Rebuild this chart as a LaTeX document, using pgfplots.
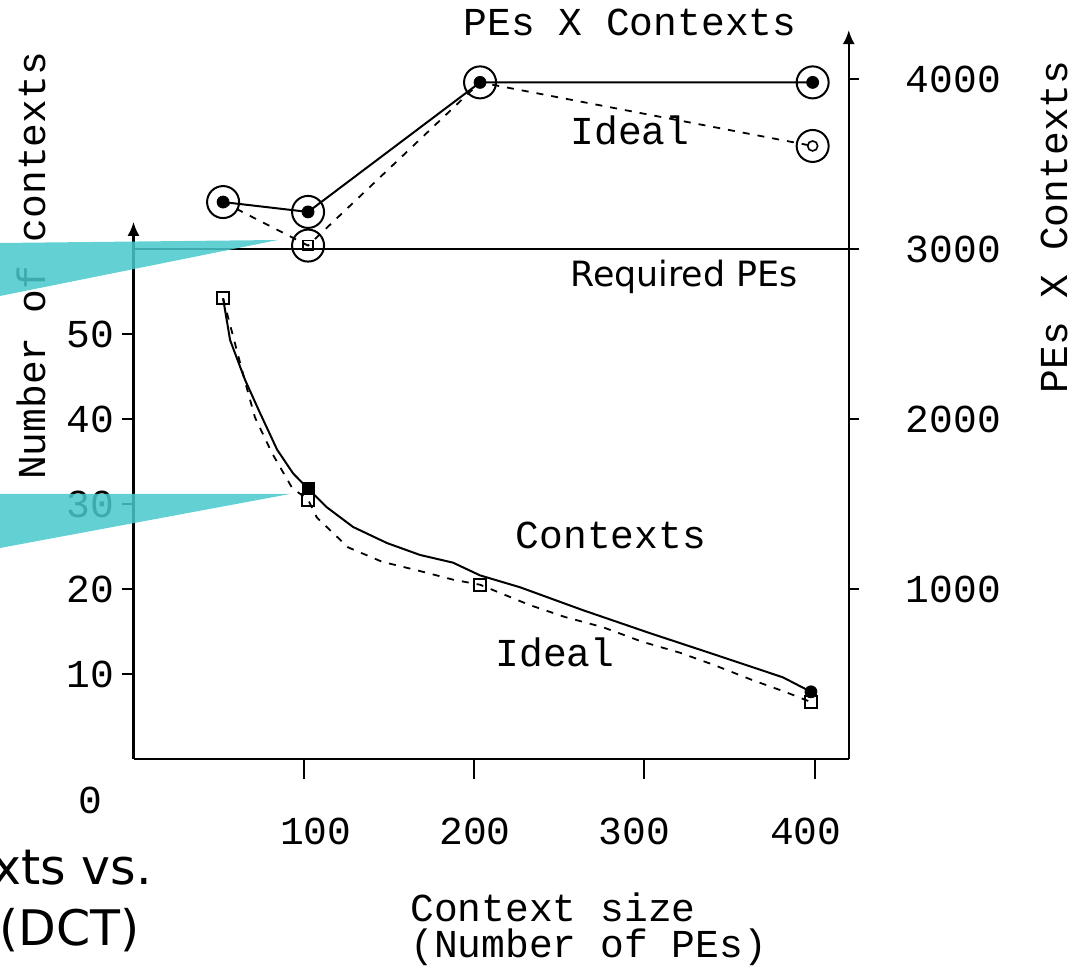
\documentclass[border=0pt]{standalone}
\usepackage{pgfplots}
\pgfplotsset{compat=1.18}
\usetikzlibrary{arrows.meta}
\usepackage{fontspec}
\setmainfont{Liberation Mono}
\newfontfamily\slidefont{DejaVu Sans}
\definecolor{callout}{RGB}{72,200,205}
\newcommand\chartfont{\fontsize{19.8}{22}\selectfont}

\pgfplotstableread{
x y
52.6 54.2
56.7 49.3
65.5 44.6
74.3 40.7
84.3 36.4
93.7 33.6
102.5 31.8
113.6 29.6
128.9 27.3
148.9 25.4
168.3 24.0
187.6 23.1
203.5 21.6
227.0 20.2
264.0 17.5
303.3 14.8
342.6 12.2
381.4 9.6
397.8 7.9
}\contexts

\pgfplotstableread{
x y
52.6 54.2
65.5 44.4
71.3 40.2
81.3 36.0
93.1 31.9
102.5 30.5
107.7 28.4
126.0 24.9
146.0 23.2
166.5 22.2
187.6 21.1
203.5 20.5
232.8 18.1
253.4 16.7
275.7 15.5
298.6 13.8
320.9 12.5
340.3 11.1
363.2 9.3
382.6 7.9
397.8 6.7
}\idealcontexts

\pgfplotstableread{
x y
52.6 3276
102.5 3218
203.5 3980
398.8 3980
}\pes

\pgfplotstableread{
x y
52.6 3276
102.5 3020
203.5 3980
398.8 3606
}\idealpes

\begin{document}
\begin{tikzpicture}
\useasboundingbox (0,0) rectangle (541.5pt,484pt);
\clip (0,0) rectangle (541.5pt,484pt);
\pgfplotsset{base/.style={at={(66.75pt,104.5pt)}, anchor=south west,
  scale only axis, x=0.8515pt, xmin=0, xmax=420, clip=false,
  font=\chartfont, /pgf/number format/assume math mode=true,
  tick align=outside, axis line style={line width=1.2pt},
  tick style={line width=1pt, black}, every tick label/.append style={font=\chartfont}}}

% x axis
\begin{axis}[base, y=4.25pt, ymin=0, ymax=63.2,
  axis x line*=bottom, axis y line=none, ytick=\empty,
  xtick={100,200,300,400}, major tick length=10pt,
  xticklabel style={yshift=-16pt},
  xticklabels={\hspace*{12pt}100,\hspace*{1pt}200,300\hspace*{10pt},400\hspace*{9pt}}]
\end{axis}

% left axis: number of contexts
\begin{axis}[base, y=4.25pt, ymin=0, ymax=63.2,
  axis x line=none, axis y line*=left, xtick=\empty,
  y axis line style={-{Latex[length=7pt,width=6pt]}},
  ytick={10,20,30,40,50}, major tick length=6pt]
\addplot[black, line width=1pt] table {\contexts};
\addplot[black, line width=0.9pt, dash pattern=on 3.5pt off 4pt] table {\idealcontexts};
\addplot[only marks, mark=square, mark size=3pt, mark options={line width=0.9pt, fill=white}] coordinates {(52.6,54.2) (102.5,30.5) (203.5,20.5) (397.8,6.7)};
\addplot[only marks, mark=square*, mark size=3pt] coordinates {(102.5,31.8)};
\addplot[only marks, mark=*, mark size=3pt] coordinates {(397.8,7.9)};
\end{axis}

% right axis: PEs X Contexts
\begin{axis}[base, y=0.085pt, ymin=0, ymax=4288,
  axis x line=none, axis y line*=right, xtick=\empty,
  y axis line style={-{Latex[length=7pt,width=6pt]}},
  ytick={1000,2000,3000,4000}, major tick length=5pt,
  yticklabel style={xshift=20pt},
  /pgf/number format/1000 sep={}, scaled y ticks=false]
\addplot[black, line width=1.2pt] coordinates {(0,3000) (425.4,3000)};
\addplot[black, line width=1pt] table {\pes};
\addplot[black, line width=0.9pt, dash pattern=on 3.5pt off 4pt] table {\idealpes};
\addplot[only marks, mark=o, mark size=8pt, mark options={line width=1pt}] coordinates {(52.6,3276) (102.5,3218) (203.5,3980) (398.8,3980) (102.5,3020) (398.8,3606)};
\addplot[only marks, mark=*, mark size=3pt] coordinates {(52.6,3276) (102.5,3218) (203.5,3980) (398.8,3980)};
\addplot[only marks, mark=square, mark size=2.5pt, mark options={line width=0.8pt}] coordinates {(102.5,3020)};
\addplot[only marks, mark=o, mark size=2.5pt, mark options={line width=0.8pt}] coordinates {(398.8,3606)};
\end{axis}

% texts
\node[font=\chartfont] at (315pt,473pt) {PEs X Contexts};
\node[font=\chartfont] at (315pt,419pt) {Ideal};
\node[font=\chartfont] at (305.5pt,216.5pt) {Contexts};
\node[font=\chartfont] at (277.5pt,157.75pt) {Ideal};
\node[font=\chartfont, rotate=90] at (15.5pt,351pt) {Number of contexts};
\node[font=\chartfont, rotate=90] at (527pt,370.5pt) {PEs X Contexts};
\node[font=\chartfont] at (45pt,84pt) {0};
\node[font=\chartfont, anchor=base west, inner sep=0pt] at (205pt,23pt) {Context size};
\node[font=\chartfont, anchor=base west, inner sep=0pt] at (205pt,5pt) {(Number of PEs)};
\node[font=\slidefont\fontsize{17.4}{20}\selectfont, anchor=base west, inner sep=0pt] at (285pt,340.5pt) {Required PEs};
\node[font=\slidefont\fontsize{24.5}{28}\selectfont, anchor=base east, inner sep=0pt] at (76pt,41.5pt) {Contexts vs.};
\node[font=\slidefont\fontsize{24.5}{28}\selectfont, anchor=base east, inner sep=0pt] at (70pt,11pt) {(DCT)};

% callout wedges
\fill[callout, opacity=0.85] (0pt,362.5pt) -- (139pt,364pt) -- (0pt,336pt) -- cycle;
\fill[callout, opacity=0.85] (0pt,237pt) -- (145pt,237pt) -- (0pt,210pt) -- cycle;
\end{tikzpicture}
\end{document}
